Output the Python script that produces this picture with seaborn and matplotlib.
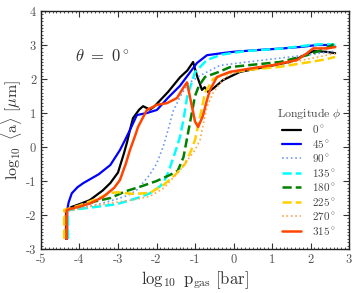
import matplotlib

matplotlib.use("Agg")
import matplotlib.pyplot as plt
import numpy as np
import pandas as pd
import seaborn as sns
from matplotlib.ticker import MultipleLocator

# log10 p_gas [bar] and log10 <a> [um] per longitude
x_0 = [-4.35, -4.35, -4.2, -4.0, -3.73, -3.4, -3.2, -3.0, -2.85, -2.77, -2.69, -2.61,
       -2.45, -2.35, -2.17, -2.05, -1.7, -1.39, -1.2, -1.05, -0.95, -0.82, -0.75,
       -0.66, -0.53, -0.27, 0.17, 0.8, 1.47, 2.07, 2.4, 2.64]
y_0 = [-2.7, -1.85, -1.76, -1.68, -1.56, -1.28, -1.06, -0.75, -0.2, 0.12, 0.5, 0.85,
       1.1, 1.2, 1.1, 1.2, 1.62, 2.05, 2.25, 2.5, 2.1, 1.68, 1.76, 1.62, 1.72, 1.97,
       2.21, 2.35, 2.5, 2.82, 2.8, 2.76]

x_45 = [-4.32, -4.32, -4.28, -4.2, -4.05, -3.9, -3.73, -3.5, -3.2, -2.95, -2.82, -2.69,
        -2.51, -2.25, -1.99, -1.7, -1.39, -0.95, -0.69, -0.3, 0.0, 0.6, 1.29, 1.8,
        2.17, 2.45, 2.64]
y_45 = [-2.7, -1.85, -1.62, -1.36, -1.18, -1.06, -0.95, -0.8, -0.53, -0.09, 0.2, 0.5,
        0.94, 1.0, 1.09, 1.45, 1.8, 2.47, 2.7, 2.76, 2.8, 2.85, 2.9, 2.95, 3.0, 3.0,
        2.95]

x_90 = [-4.33, -4.33, -4.0, -3.5, -3.0, -2.7, -2.5, -2.2, -2.0, -1.83, -1.7, -1.57,
        -1.4, -1.2, -0.87, -0.35, 0.35, 1.47, 2.0, 2.51, 2.64]
y_90 = [-2.7, -1.85, -1.8, -1.68, -1.52, -1.4, -1.25, -0.85, -0.5, 0.0, 0.5, 1.05,
        1.45, 1.85, 2.1, 2.4, 2.5, 2.65, 2.72, 2.8, 2.82]

x_135 = [-4.3, -4.3, -4.0, -3.5, -3.03, -2.5, -2.17, -1.9, -1.75, -1.65, -1.5, -1.39,
         -1.3, -1.2, -1.0, -0.87, -0.69, -0.3, 0.3, 1.3, 2.0, 2.4, 2.64]
y_135 = [-2.7, -1.85, -1.82, -1.75, -1.68, -1.5, -1.36, -1.15, -0.9, -0.6, -0.1, 0.3,
         0.8, 1.5, 2.2, 2.35, 2.56, 2.72, 2.82, 2.9, 3.0, 3.03, 3.0]

x_180 = [-4.35, -4.35, -4.0, -3.6, -3.2, -2.8, -2.43, -2.0, -1.65, -1.45, -1.3, -1.2,
         -1.1, -1.0, -0.9, -0.74, -0.4, -0.09, 0.5, 1.21, 1.91, 2.4, 2.64]
y_180 = [-2.7, -1.85, -1.75, -1.6, -1.5, -1.3, -1.17, -1.0, -0.82, -0.7, -0.3, 0.3,
         0.9, 1.5, 1.8, 2.06, 2.2, 2.35, 2.42, 2.5, 2.7, 2.9, 3.05]

x_225 = [-4.4, -4.4, -4.0, -3.5, -3.2, -3.0, -2.6, -2.17, -1.8, -1.5, -1.26, -1.1,
         -1.0, -0.87, -0.74, -0.53, -0.09, 0.5, 1.21, 1.99, 2.4, 2.64]
y_225 = [-2.7, -1.85, -1.72, -1.5, -1.35, -1.33, -1.38, -1.35, -1.1, -0.8, -0.5, -0.1,
         0.21, 0.88, 1.6, 2.0, 2.2, 2.28, 2.36, 2.5, 2.58, 2.65]

x_270 = [-4.38, -4.38, -4.0, -3.6, -3.2, -2.6, -2.17, -1.8, -1.39, -1.0, -0.87, -0.69,
         -0.53, -0.3, -0.09, 0.5, 1.3, 2.0, 2.5, 2.64]
y_270 = [-2.7, -1.9, -1.82, -1.72, -1.65, -1.55, -1.45, -1.2, -0.68, -0.09, 0.21, 1.18,
         1.59, 1.95, 2.15, 2.3, 2.45, 2.6, 2.72, 2.75]

x_315 = [-4.33, -4.33, -4.0, -3.73, -3.39, -3.1, -2.95, -2.8, -2.69, -2.55, -2.48, -2.25,
         -1.99, -1.73, -1.47, -1.3, -1.21, -1.1, -1.0, -0.92, -0.8, -0.69, -0.61, -0.43,
         -0.09, 0.5, 1.03, 1.65, 1.9, 2.07, 2.43, 2.64]
y_315 = [-2.7, -1.85, -1.75, -1.66, -1.47, -1.2, -0.97, -0.5, -0.09, 0.35, 0.59, 1.09,
         1.24, 1.29, 1.44, 1.75, 1.9, 1.3, 0.75, 0.59, 0.9, 1.38, 1.68, 2.06, 2.21,
         2.32, 2.41, 2.56, 2.75, 2.9, 2.9, 2.94]

longitudes = [0, 45, 90, 135, 180, 225, 270, 315]
series_x = [x_0, x_45, x_90, x_135, x_180, x_225, x_270, x_315]
series_y = [y_0, y_45, y_90, y_135, y_180, y_225, y_270, y_315]

colors = ["black", "#0000ff", "#6f9cf0", "#00ffff", "#008000", "#ffd000",
          "#ffa64d", "#ff4500"]
styles = ["-", "-", ":", "--", "--", "--", ":", "-"]
widths = [1.6, 1.6, 1.2, 1.8, 1.8, 1.8, 1.2, 1.8]

sns.set_style("ticks")
plt.rcParams["font.family"] = "serif"
plt.rcParams["font.serif"] = ["cmr10", "DejaVu Serif"]
plt.rcParams["mathtext.fontset"] = "cm"
plt.rcParams["axes.unicode_minus"] = False
plt.rcParams["axes.formatter.use_mathtext"] = False

fig = plt.figure(figsize=(3.58, 2.93), dpi=100)
ax = fig.add_axes([0.1145, 0.150, 0.8605, 0.8125])

for lon, xs, ys, c, ls, lw in zip(longitudes, series_x, series_y, colors, styles, widths):
    df = pd.DataFrame({"p": xs, "a": ys})
    sns.lineplot(
        data=df,
        x="p",
        y="a",
        sort=False,
        estimator=None,
        color=c,
        linestyle=ls,
        linewidth=lw,
        label=rf"${lon}^\circ$",
        ax=ax,
    )

ax.set_xlim(-5, 3)
ax.set_ylim(-3, 4)
ax.xaxis.set_major_locator(MultipleLocator(1))
ax.yaxis.set_major_locator(MultipleLocator(1))
ax.xaxis.set_minor_locator(MultipleLocator(0.1))
ax.yaxis.set_minor_locator(MultipleLocator(0.1))
ax.tick_params(which="both", direction="in", top=True, right=True, labelsize=9,
               color="#333333")
ax.tick_params(which="major", length=4, width=0.8)
ax.tick_params(which="minor", length=1.5, width=0.6)
for sp in ax.spines.values():
    sp.set_linewidth(1.0)
    sp.set_color("#222222")
for lbl in ax.get_xticklabels() + ax.get_yticklabels():
    lbl.set_color("#555555")

ax.set_xlabel(r"$\log_{10}\ \mathrm{p_{gas}}\ [\mathrm{bar}]$", fontsize=12,
              color="#333333", labelpad=2)
ax.set_ylabel(r"$\log_{10}\ \langle\mathrm{a}\rangle\ [\mu\mathrm{m}]$", fontsize=11.5,
              color="#333333", labelpad=1)

ax.text(-3.4, 2.68, r"$\theta\ =\ 0^\circ$", fontsize=12, ha="center", va="center",
        color="#333333")

leg = ax.legend(
    title=r"Longitude $\phi$",
    loc="lower right",
    bbox_to_anchor=(1.0, 0.02),
    frameon=False,
    fontsize=8,
    title_fontsize=8.5,
    handlelength=1.7,
    handletextpad=1.0,
    labelspacing=0.22,
    borderaxespad=0.3,
)
for t in leg.get_texts():
    t.set_color("#444444")
leg.get_title().set_color("#444444")

fig.savefig("out.png", dpi=100)
